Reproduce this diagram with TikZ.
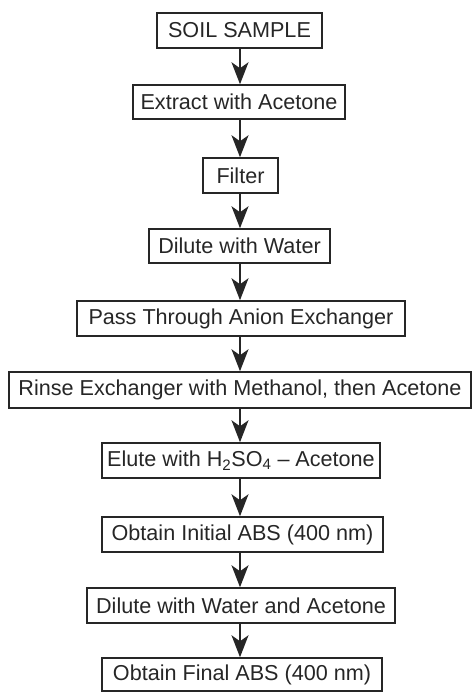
\documentclass[tikz,border=0pt]{standalone}
\usepackage{fontspec}
\setmainfont{Liberation Sans}
\usetikzlibrary{arrows.meta}
\begin{document}
\begin{tikzpicture}[x=1pt,y=-1pt,
  stepbox/.style={draw=black!85, line width=1.5pt, inner sep=0pt, font=\fontsize{21.6}{24}\selectfont, text=black!85},
  flow/.style={draw=black!85, line width=1.8pt, -{Stealth[length=22pt,width=17pt,inset=6pt]}}]
\useasboundingbox (0,0) rectangle (472,692);
\newcommand{\bx}[6]{\node[stepbox, minimum width=#3-#2, minimum height=#5-#4] (#1) at ({(#2+#3)/2},{(#4+#5)/2}) {#6};}
\bx{a}{157}{322}{13}{48}{SOIL SAMPLE}
\bx{b}{133}{345}{85}{119}{Extract with Acetone}
\bx{c}{203}{278}{158}{193}{Filter}
\bx{d}{149}{330}{229}{263}{Dilute with Water}
\bx{e}{77}{405}{301}{336}{Pass Through Anion Exchanger}
\bx{f}{9}{471}{372}{408}{Rinse Exchanger with Methanol, then Acetone}
\bx{g}{102}{380}{443}{478}{Elute with H\textsubscript{2}SO\textsubscript{4} -- Acetone}
\bx{h}{102}{383}{517}{552}{Obtain Initial ABS (400 nm)}
\bx{i}{87}{395}{588}{623}{Dilute with Water and Acetone}
\bx{j}{102}{382}{658}{691}{Obtain Final ABS (400 nm)}
\foreach \p/\q in {a/b,b/c,c/d,d/e,e/f,f/g,g/h,h/i,i/j}
  \draw[flow] (\p.south -| 240,0) -- (\q.north -| 240,0);
\end{tikzpicture}
\end{document}
